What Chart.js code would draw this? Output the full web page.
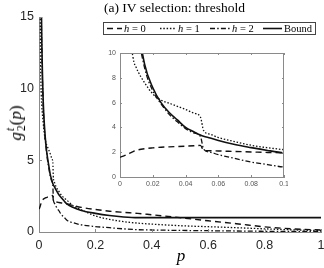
<!DOCTYPE html>
<html>
<head>
<meta charset="utf-8">
<script src="https://cdn.jsdelivr.net/npm/chart.js@4/dist/chart.umd.min.js"></script>
<style>
  html, body { margin: 0; padding: 0; background: #fff; }
  #wrap { position: relative; width: 324px; height: 268px; overflow: hidden; background: #fff; }
  canvas { position: absolute; }
  .serif { font-family: 'Liberation Serif', 'Times New Roman', serif; color: #000; }
  #title { position: absolute; left: 104px; top: 0; font-size: 13.5px; line-height: 16px; white-space: nowrap; }
  #legend { position: absolute; left: 103px; top: 22px; width: 211px; height: 11px; border: 1px solid #444; background: #fff; }
  #legend .it { position: absolute; top: 0; height: 11px; font-size: 10.5px; line-height: 11px; white-space: nowrap; }
  #legend svg { position: absolute; top: 0; }
  #ylab { position: absolute; left: 16px; top: 123px; transform: translate(-50%, -50%) rotate(-90deg); font-size: 17px; white-space: nowrap; }
  .ss { display: inline-block; vertical-align: -0.32em; font-size: 0.68em; line-height: 0.95; margin-left: 1px; }
  .ss > * { display: block; }
  #xlab { position: absolute; left: 181px; top: 246px; transform: translateX(-50%); font-size: 17px; font-style: italic; }
</style>
</head>
<body>
<div id="wrap">
  <canvas id="main" width="324" height="268" style="left:0;top:0"></canvas>
  <canvas id="inset" width="188" height="145" style="left:100px;top:48px"></canvas>
  <div id="title" class="serif">(a) IV selection: threshold</div>
  <div id="legend" class="serif"></div>
  <div id="ylab" class="serif"><i>g</i><span class="ss"><i>t</i><span>2</span></span>(<i>p</i>)</div>
  <div id="xlab" class="serif">p</div>
</div>
<script>
// values
const pVals  = [0, 0.002, 0.005, 0.008, 0.01, 0.015, 0.02, 0.025, 0.03, 0.035, 0.04, 0.045, 0.049, 0.051, 0.055,
                0.06, 0.07, 0.08, 0.09, 0.1, 0.12, 0.15, 0.2, 0.25, 0.3, 0.35, 0.4, 0.5, 0.6, 0.7, 0.8, 0.9, 1.0];
const h0     = [1.6, 1.68, 1.85, 2.05, 2.15, 2.28, 2.35, 2.4, 2.43, 2.46, 2.49, 2.52, 2.55, 2.15, 2.12,
                2.1, 2.06, 2.02, 1.98, 1.95, 1.85, 1.72, 1.57, 1.45, 1.37, 1.3, 1.2, 1.0, 0.78, 0.58, 0.36, 0.22, 0.14];
const h1     = [null, 28, 13.5, 9.6, 8.8, 7.6, 6.7, 6.2, 5.95, 5.7, 5.45, 5.15, 4.85, 3.75, 3.45,
                3.18, 2.85, 2.56, 2.36, 2.2, 1.85, 1.55, 1.12, 0.88, 0.72, 0.62, 0.55, 0.44, 0.37, 0.3, 0.22, 0.15, 0.1];
const h2     = [null, 60, 25, 15.5, 12.6, 8.8, 6.95, 5.9, 5.05, 4.45, 3.9, 3.55, 3.28, 2.25, 2.0,
                1.8, 1.5, 1.2, 1.0, 0.8, 0.65, 0.5, 0.38, 0.3, 0.22, 0.16, 0.14, 0.11, 0.09, 0.07, 0.05, 0.04, 0.03];
const bound  = [null, 64, 26, 16.5, 13.3, 9.1, 7.2, 6.0, 5.2, 4.6, 4.0, 3.65, 3.38, 3.28, 3.15,
                2.95, 2.62, 2.37, 2.14, 1.94, 1.72, 1.5, 1.3, 1.15, 1.05, 1.0, 1.0, 1.0, 1.0, 1.0, 1.0, 1.0, 1.0];

const mainXTicks  = [0, 0.2, 0.4, 0.6, 0.8, 1];
const mainYTicks  = [0, 5, 10, 15];
const insetXTicks = [0, 0.02, 0.04, 0.06, 0.08, 0.1];
const insetYTicks = [0, 2, 4, 6, 8, 10];

const C = { line: '#111', axis: '#8a8a8a', text: '#262626', insetText: '#555' };

const series = [
  { label: 'h = 0', data: h0,    dash: [6, 4],              width: 1.4 },
  { label: 'h = 1', data: h1,    dash: [1.5, 1.8],          width: 1.3 },
  { label: 'h = 2', data: h2,    dash: [5, 2.2, 1.5, 2.2],  width: 1.3 },
  { label: 'Bound', data: bound, dash: [],                  width: 1.6 },
];

const toPoints = (arr) => pVals.map((p, i) => ({ x: p, y: arr[i] }));

const makeDatasets = () => series.map((s) => ({
  label: s.label,
  data: toPoints(s.data),
  borderColor: C.line,
  borderWidth: s.width,
  borderDash: s.dash,
  pointRadius: 0,
  cubicInterpolationMode: 'monotone',
  fill: false,
}));

// MATLAB style ticks pointing into the plot; optional full box for the inset
const inwardTicks = {
  id: 'inwardTicks',
  afterDraw(chart, args, o) {
    const { ctx, chartArea: a, scales: { x, y } } = chart;
    const line = (x1, y1, x2, y2) => { ctx.beginPath(); ctx.moveTo(x1, y1); ctx.lineTo(x2, y2); ctx.stroke(); };
    ctx.save();
    ctx.strokeStyle = o.color;
    ctx.lineWidth = 1;
    if (o.box) {
      line(a.left, a.top + 0.5, a.right, a.top + 0.5);
      line(a.right - 0.5, a.top, a.right - 0.5, a.bottom);
    }
    x.ticks.forEach((t) => {
      const px = Math.round(x.getPixelForValue(t.value)) + 0.5;
      line(px, a.bottom, px, a.bottom - o.len);
      if (o.box) line(px, a.top, px, a.top + o.len);
    });
    y.ticks.forEach((t) => {
      const py = Math.round(y.getPixelForValue(t.value)) + 0.5;
      line(a.left, py, a.left + o.len, py);
      if (o.box) line(a.right, py, a.right - o.len, py);
    });
    ctx.restore();
  },
};

// fixed axis thickness, and no extra room reserved for the end labels
const fixSize = (key, size) => (s) => {
  s[key] = size;
  s.paddingLeft = s.paddingRight = s.paddingTop = s.paddingBottom = 0;
};

const axis = (min, max, ticks, fit, font, color, pad, digits) => ({
  type: 'linear',
  min, max,
  afterFit: fit,
  afterBuildTicks: (s) => { s.ticks = ticks.map((v) => ({ value: v })); },
  grid: { display: false, drawTicks: false },
  border: { display: true, color: C.axis, width: 1 },
  ticks: { color, font, padding: pad, callback: (v) => String(+v.toFixed(digits)) },
});

new Chart(document.getElementById('main'), {
  type: 'line',
  data: { datasets: makeDatasets() },
  plugins: [inwardTicks],
  options: {
    responsive: false,
    animation: false,
    events: [],
    layout: { padding: { top: 17, right: 3, left: 0, bottom: 0 } },
    scales: {
      x: axis(0, 1, mainXTicks, fixSize('height', 36), { family: 'Liberation Sans', size: 12.5 }, C.text, 6, 1),
      y: axis(0, 15, mainYTicks, fixSize('width', 39), { family: 'Liberation Sans', size: 12.5 }, C.text, 5, 0),
    },
    plugins: {
      legend: { display: false },
      tooltip: { enabled: false },
      inwardTicks: { len: 3, color: C.axis, box: false },
    },
  },
});

new Chart(document.getElementById('inset'), {
  type: 'line',
  data: { datasets: makeDatasets() },
  plugins: [inwardTicks],
  options: {
    responsive: false,
    animation: false,
    events: [],
    layout: { padding: { top: 5, right: 4, left: 0, bottom: 0 } },
    scales: {
      x: axis(0, 0.1, insetXTicks, fixSize('height', 16), { family: 'Liberation Sans', size: 7 }, C.insetText, 3, 2),
      y: axis(0, 10, insetYTicks, fixSize('width', 20), { family: 'Liberation Sans', size: 7 }, C.insetText, 4, 0),
    },
    plugins: {
      legend: { display: false },
      tooltip: { enabled: false },
      inwardTicks: { len: 2, color: C.axis, box: true },
    },
  },
});

// legend with the same dash patterns as the lines
const legendPos = [[3, 20], [56, 74], [106, 128], [159, 180]];
const legendEl = document.getElementById('legend');
series.forEach((s, i) => {
  const [lx, tx] = legendPos[i];
  const w = tx - lx - 2;
  const svg = document.createElementNS('http://www.w3.org/2000/svg', 'svg');
  svg.setAttribute('width', w);
  svg.setAttribute('height', 11);
  svg.style.left = lx + 'px';
  svg.innerHTML = '<line x1="0" y1="5.5" x2="' + w + '" y2="5.5" stroke="' + C.line + '" stroke-width="' + s.width +
    '" stroke-dasharray="' + (s.dash.length ? s.dash.join(' ') : 'none') + '"/>';
  legendEl.appendChild(svg);
  const txt = document.createElement('span');
  txt.className = 'it';
  txt.style.left = tx + 'px';
  txt.innerHTML = s.label === 'Bound' ? 'Bound' : '<i>h</i> = ' + s.label.slice(-1);
  legendEl.appendChild(txt);
});
</script>
</body>
</html>
